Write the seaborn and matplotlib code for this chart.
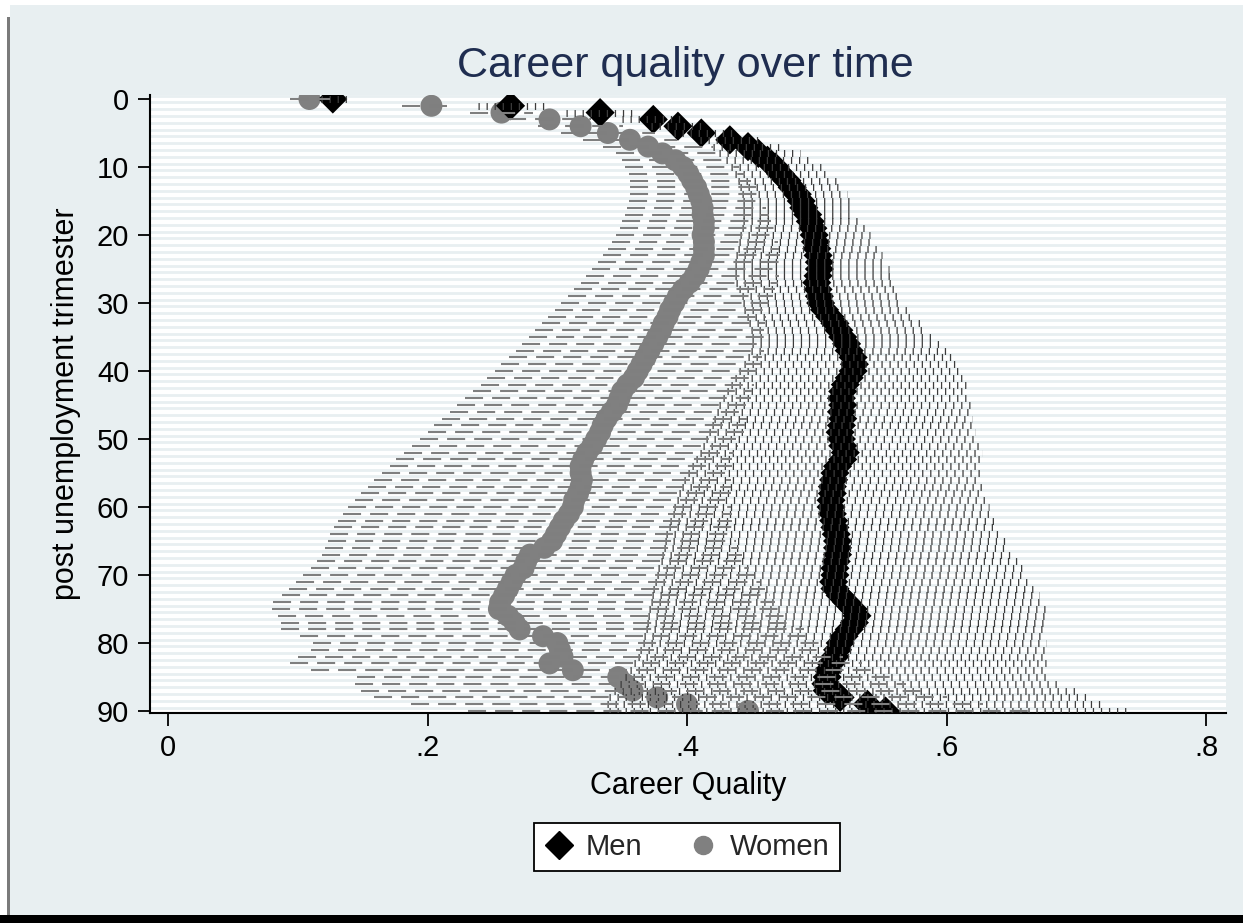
import numpy as np
import pandas as pd
import matplotlib
matplotlib.use("Agg")
import matplotlib.pyplot as plt
import seaborn as sns
from matplotlib.patches import Rectangle
from matplotlib.lines import Line2D

# ---------------- data ----------------
trimester = list(range(91))

men_mean = [.127, .264, .333, .374, .393, .411, .433, .447, .455, .462,
            .468, .472, .477, .481, .485, .488, .490, .493, .495, .497,
            .498, .499, .500, .501, .502, .502, .501, .500, .501, .502,
            .503, .506, .510, .514, .517, .520, .523, .525, .528, .529,
            .528, .525, .522, .520, .519, .520, .519, .520, .519, .518,
            .519, .520, .522, .520, .516, .514, .513, .512, .512, .511,
            .511, .512, .513, .514, .515, .516, .516, .516, .515, .514,
            .514, .513, .514, .518, .523, .528, .531, .529, .525, .521,
            .518, .516, .514, .511, .509, .508, .507, .508, .518, .539,
            .553]
men_lo = [.118, .239, .307, .350, .372, .390, .410, .420, .425, .430,
          .434, .437, .439, .441, .442, .443, .443, .443, .443, .442,
          .441, .440, .439, .438, .437, .437, .437, .438, .440, .442,
          .443, .444, .446, .448, .449, .450, .450, .449, .447, .444,
          .440, .437, .434, .431, .428, .425, .423, .421, .419, .417,
          .415, .412, .410, .407, .404, .401, .398, .396, .394, .392,
          .390, .389, .387, .386, .384, .383, .382, .381, .380, .378,
          .377, .375, .374, .373, .372, .371, .370, .369, .368, .367,
          .366, .364, .362, .359, .356, .352, .348, .344, .340, .338,
          .340]
men_hi = [.139, .290, .358, .395, .412, .435, .455, .475, .487, .497,
          .503, .510, .516, .520, .523, .525, .527, .529, .533, .537,
          .541, .545, .548, .550, .553, .556, .558, .560, .562, .564,
          .567, .571, .576, .581, .586, .592, .598, .603, .607, .611,
          .613, .614, .615, .616, .617, .618, .619, .620, .621, .622,
          .624, .626, .627, .627, .626, .626, .627, .627, .628, .630,
          .633, .636, .638, .640, .643, .646, .649, .652, .655, .658,
          .661, .664, .667, .671, .674, .676, .678, .678, .677, .677,
          .677, .676, .676, .677, .678, .680, .690, .700, .708, .720,
          .739]

women_mean = [.109, .203, .257, .294, .318, .339, .356, .370, .381, .391,
              .397, .401, .404, .407, .409, .411, .412, .412, .413, .413,
              .412, .413, .413, .413, .411, .409, .406, .402, .397, .393,
              .390, .387, .385, .382, .380, .377, .374, .371, .368, .365,
              .362, .359, .354, .350, .348, .346, .342, .338, .335, .333,
              .330, .327, .323, .320, .318, .318, .319, .318, .316, .313,
              .312, .309, .305, .302, .299, .296, .290, .279, .276, .274,
              .268, .265, .262, .259, .256, .255, .262, .267, .271, .289,
              .300, .302, .304, .294, .312, .347, .352, .358, .377, .400,
              .447]
women_lo = [.094, .180, .233, .262, .285, .303, .320, .335, .345, .350,
            .352, .355, .356, .356, .356, .355, .354, .352, .350, .348,
            .345, .342, .339, .335, .331, .327, .322, .318, .313, .308,
            .303, .298, .293, .288, .283, .278, .273, .268, .263, .257,
            .252, .246, .241, .235, .229, .223, .217, .211, .205, .200,
            .194, .188, .182, .176, .171, .165, .159, .154, .149, .144,
            .139, .135, .131, .128, .125, .123, .121, .119, .115, .110,
            .104, .099, .093, .088, .081, .080, .085, .087, .087, .102,
            .112, .110, .100, .094, .110, .146, .144, .149, .159, .187,
            .231]
women_hi = [.125, .215, .281, .326, .351, .375, .392, .420, .425, .430,
            .440, .445, .449, .453, .456, .459, .461, .463, .465, .467,
            .469, .470, .471, .472, .472, .472, .471, .470, .468, .466,
            .464, .462, .461, .460, .459, .459, .459, .459, .458, .457,
            .456, .454, .452, .450, .449, .448, .447, .446, .445, .444,
            .442, .439, .436, .435, .435, .434, .434, .434, .434, .434,
            .434, .435, .435, .436, .437, .438, .440, .442, .445, .448,
            .452, .456, .460, .464, .468, .472, .477, .483, .490, .497,
            .503, .508, .520, .535, .548, .558, .569, .580, .600, .628,
            .664]

x_ticks = [0, .2, .4, .6, .8]
x_ticklabels = ["0", ".2", ".4", ".6", ".8"]
y_ticks = [0, 10, 20, 30, 40, 50, 60, 70, 80, 90]

men_df = pd.DataFrame({"t": trimester, "q": men_mean})
women_df = pd.DataFrame({"t": trimester, "q": women_mean})

# ---------------- style ----------------
sns.set_theme(style="white")
plt.rcParams["font.family"] = ["Liberation Sans", "DejaVu Sans"]
plt.rcParams["lines.scale_dashes"] = False

W, H = 1243, 923
fig = plt.figure(figsize=(W / 100, H / 100), dpi=100)
fig.patch.set_facecolor("white")
BG = "#e8eff1"
fig.patches.append(Rectangle((10 / W, 8 / H), 1 - 10 / W, 1 - 13 / H,
                             transform=fig.transFigure, facecolor=BG,
                             edgecolor="none", zorder=-10))
fig.patches.append(Rectangle((7 / W, 8 / H), 3 / W, 1 - 25 / H,
                             transform=fig.transFigure, facecolor="#7a7a7a",
                             edgecolor="none", zorder=-9))
fig.patches.append(Rectangle((0, 0), 1, 8 / H, transform=fig.transFigure,
                             facecolor="black", edgecolor="none", zorder=-9))

ax = fig.add_axes([150 / W, 1 - 713 / H, (1226 - 150) / W, (713 - 95) / H])
ax.set_facecolor("white")

# light row stripes
for t in range(-1, 91):
    ax.axhline(t + 0.5, color=BG, lw=2.0, zorder=0)

# means
sns.scatterplot(data=women_df, x="q", y="t", marker="o", s=250,
                color="#808080", edgecolor="none", linewidth=0, ax=ax,
                zorder=2, legend=False)
sns.scatterplot(data=men_df, x="q", y="t", marker="D", s=220,
                color="black", edgecolor="none", linewidth=0, ax=ax,
                zorder=2.5, legend=False)

# confidence intervals
ax.hlines(trimester, men_lo, men_hi, colors="#3c3c3c", linewidth=5.0,
          linestyles=[(0, (0.9, 4.9))], zorder=3)
ax.hlines(trimester, women_lo, women_hi, colors="#7f7f7f", linewidth=1.5,
          linestyles=[(0, (13, 6.5))], zorder=4)

ax.set_xlim(-0.0139, 0.8154)
ax.set_ylim(90.29, -0.59)
ax.set_xticks(x_ticks)
ax.set_xticklabels(x_ticklabels)
ax.set_yticks(y_ticks)
ax.tick_params(axis="both", direction="out", length=9, width=1.3,
               color="black", labelsize=21, pad=6, labelcolor="black",
               bottom=True, left=True)
for s in ["top", "right"]:
    ax.spines[s].set_visible(False)
for s in ["left", "bottom"]:
    ax.spines[s].set_color("black")
    ax.spines[s].set_linewidth(1.5)
ax.grid(False)

ax.set_xlabel("Career Quality", fontsize=22, color="black")
ax.xaxis.set_label_coords(0.5, (713 - 786) / 618)
ax.xaxis.label.set_va("center")
ax.set_ylabel("post unemployment trimester", fontsize=22, color="black")
ax.yaxis.set_label_coords((66 - 150) / 1076, 0.5)
ax.yaxis.label.set_va("center")

fig.text(685 / W, 1 - 66 / H, "Career quality over time", ha="center",
         va="center", fontsize=31, color="#1f2d50")

handles = [Line2D([], [], marker="D", color="black", linestyle="none",
                  markersize=14),
           Line2D([], [], marker="o", color="#808080", linestyle="none",
                  markersize=13)]
leg = fig.legend(handles, ["Men", "Women"], loc="center",
                 bbox_to_anchor=(687 / W, 1 - 847 / H), ncol=2,
                 fontsize=21, frameon=True, fancybox=False,
                 edgecolor="black", facecolor="white", framealpha=1,
                 handletextpad=0.4, columnspacing=1.6, borderpad=0.35,
                 handlelength=1.0)
leg.get_frame().set_linewidth(1.3)

fig.savefig("out.png", dpi=100, facecolor=fig.get_facecolor())
